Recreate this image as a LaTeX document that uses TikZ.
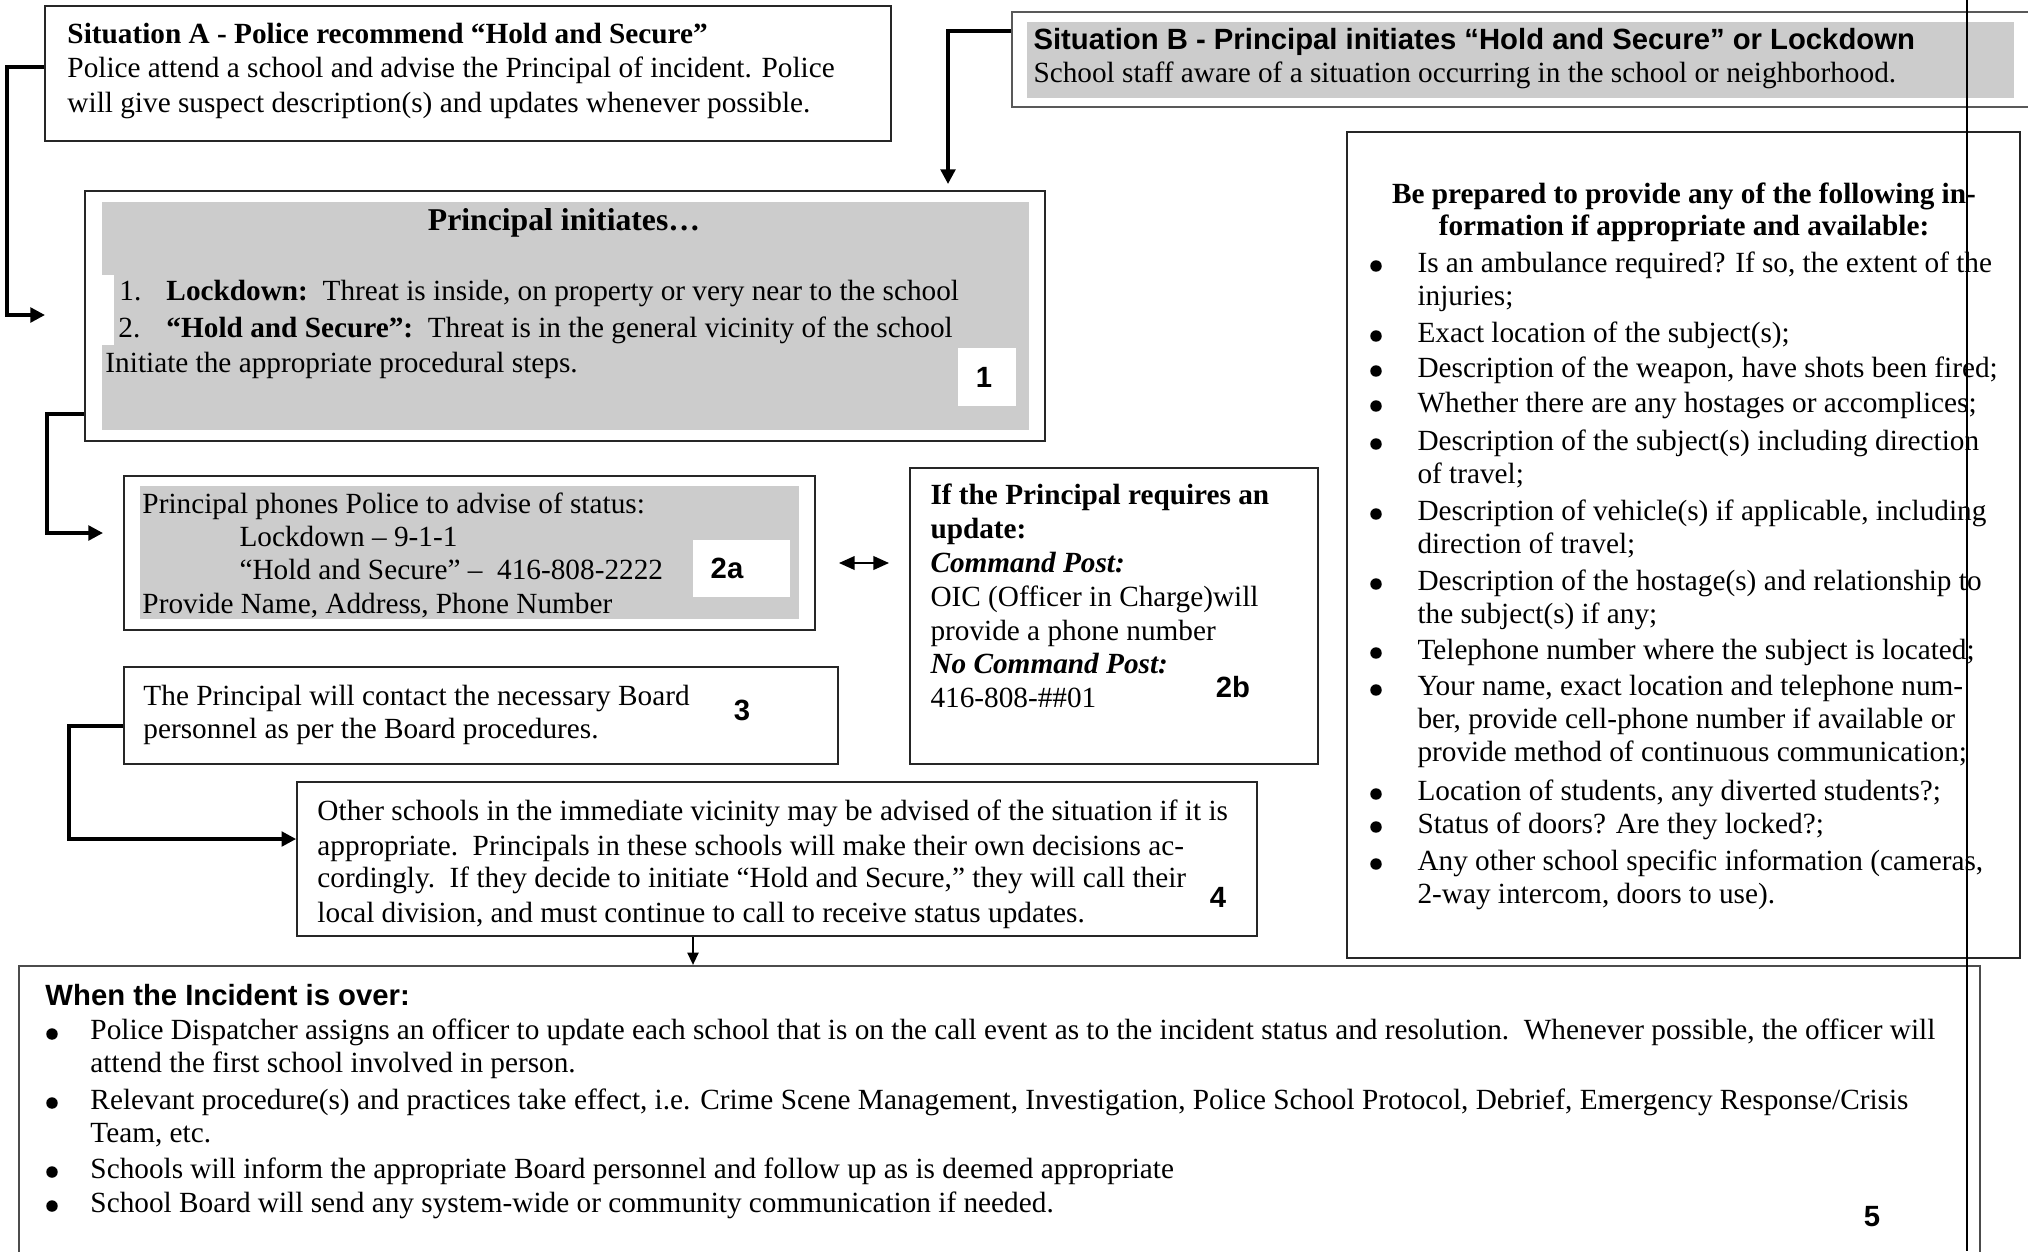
\documentclass[tikz,border=0pt]{standalone}
\usepackage{fontspec}
\setmainfont{Liberation Serif}
\newfontfamily\arialfont{Liberation Sans}
\usetikzlibrary{arrows.meta,fit,calc}

\tikzset{
  box/.style={draw=black!85,line width=0.7pt,inner sep=0pt},
  shade/.style={fill=gray!40,draw=none,inner sep=0pt},
  blank/.style={fill=white,draw=none,inner sep=0pt},
  txt/.style={anchor=base west,inner sep=0pt,align=left,
    font=\fontsize{12}{13.8}\selectfont},
  numlab/.style={inner sep=0pt,font=\arialfont\bfseries\fontsize{12}{14}\selectfont},
  bul/.style={circle,fill=black,inner sep=0pt,minimum size=4.7pt},
  conn/.style={line width=1.4pt,-{Triangle[length=6pt,width=6pt]}},
  thinconn/.style={line width=0.8pt,-{Triangle[length=5pt,width=4.5pt]}},
  dblconn/.style={line width=1.1pt,{Triangle[length=6.5pt,width=5.5pt]}-{Triangle[length=6.5pt,width=5.5pt]}}
}

\begin{document}
\begin{tikzpicture}[x=0.41pt,y=-0.41pt]
\useasboundingbox (0,0) rectangle (2028,1251);
% frames and shaded panels
\node[box,fit={(45,6)(891,141)}] (sitA) {};
\node[box,draw=black!65,line width=0.9pt,fit={(1012,12)(2060,107)}] (sitB) {};
\node[shade,fit={(1027,22)(2014,98)}] (sitBfill) {};
\node[box,fit={(85,191)(1045,441)}] (princ) {};
\node[shade,fit={(102,202)(1029,430)}] (princfill) {};
\node[blank,fit={(102,275)(114,345)}] (princgap) {};
\node[blank,fit={(958,348)(1016,406)}] (tagone) {};
\node[box,fit={(124,476)(815,630)}] (phone) {};
\node[shade,fit={(140,486)(799,619)}] (phonefill) {};
\node[blank,fit={(693,540)(790,597)}] (tagtwoa) {};
\node[box,fit={(910,468)(1318,764)}] (upd) {};
\node[box,fit={(124,667)(838,764)}] (board) {};
\node[box,fit={(297,782)(1257,936)}] (other) {};
\node[box,fit={(1347,132)(2020,958)}] (info) {};
\node[box,draw=black!70,line width=0.9pt,fit={(19,966)(1980,1290)}] (over) {};

% situation A and B (multi-line texts sit on their last baseline)
\node[txt,font=\fontsize{12}{14.1}\selectfont] (sitAtext) at (67,112)
  {\textbf{Situation A - Police recommend “Hold and Secure”}\\
   Police attend a school and advise the Principal of incident. Police\\
   will give suspect description(s) and updates whenever possible.};
\node[txt,font=\arialfont\bfseries\fontsize{12}{14}\selectfont] (sitBhead) at (1033,49)
  {Situation B - Principal initiates “Hold and Secure” or Lockdown};
\node[txt] (sitBtext) at (1033,82)
  {School staff aware of a situation occurring in the school or neighborhood.};

% principal initiates
\node[anchor=base,inner sep=0pt,font=\bfseries\fontsize{13}{15}\selectfont] (princhead) at (564,230)
  {Principal initiates…};
\node[txt] (lockno) at (119,300) {1.};
\node[txt] (holdno) at (118,337) {2.};
\node[txt] (lockline) at (166,300)
  {\textbf{Lockdown:}\ \ Threat is inside, on property or very near to the school};
\node[txt] (holdline) at (166,337)
  {\textbf{“Hold and Secure”:}\ \ Threat is in the general vicinity of the school};
\node[txt] (princsteps) at (105,372) {Initiate the appropriate procedural steps.};
\node[numlab] (numone) at (984,377) {1};

% phone call
\node[txt,font=\fontsize{12}{13.6}\selectfont] (phonetext) at (142,613)
  {Principal phones Police to advise of status:\\
   \hspace*{39.8pt}Lockdown – 9-1-1\\
   \hspace*{39.8pt}“Hold and Secure” –\ \ 416-808-2222\\
   Provide Name, Address, Phone Number};
\node[numlab] (numtwoa) at (727,568) {2a};

% update
\node[txt,font=\fontsize{12}{13.9}\selectfont] (updtext) at (930,640)
  {\textbf{If the Principal requires an}\\
   \textbf{update:}\\
   \textbf{\textit{Command Post:}}\\
   OIC (Officer in Charge)will\\
   provide a phone number};
\node[txt,font=\fontsize{12}{13.9}\selectfont] (updnopost) at (930,707)
  {\textbf{\textit{No Command Post:}}\\
   416-808-\#\#01};
\node[numlab] (numtwob) at (1233,687) {2b};

% board
\node[txt,font=\fontsize{12}{13.5}\selectfont] (boardtext) at (143,738)
  {The Principal will contact the necessary Board\\
   personnel as per the Board procedures.};
\node[numlab] (numthree) at (742,710) {3};

% other schools
\node[txt,font=\fontsize{12}{14.2}\selectfont] (othertop) at (317,855)
  {Other schools in the immediate vicinity may be advised of the situation if it is\\
   appropriate.\ \ Principals in these schools will make their own decisions ac-};
\node[txt,font=\fontsize{12}{14}\selectfont] (otherbottom) at (317,922)
  {cordingly.\ \ If they decide to initiate “Hold and Secure,” they will call their\\
   local division, and must continue to call to receive status updates.};
\node[numlab] (numfour) at (1218,897) {4};

% information list
\node[txt,anchor=base,align=center,font=\bfseries\fontsize{12}{13.1}\selectfont] (infohead) at (1684,235)
  {Be prepared to provide any of the following in-\\
   formation if appropriate and available:};
\foreach \yy/\ylast/\entry in {
  272/305/{Is an ambulance required? If so, the extent of the\\injuries;},
  342/342/{Exact location of the subject(s);},
  377/377/{Description of the weapon, have shots been fired;},
  412/412/{Whether there are any hostages or accomplices;},
  450/483/{Description of the subject(s) including direction\\of travel;},
  520/553/{Description of vehicle(s) if applicable, including\\direction of travel;},
  590/623/{Description of the hostage(s) and relationship to\\the subject(s) if any;},
  659/659/{Telephone number where the subject is located;},
  696/761/{Your name, exact location and telephone num-\\ber, provide cell-phone number if available or\\provide method of continuous communication;},
  800/800/{Location of students, any diverted students?;},
  833/833/{Status of doors? Are they locked?;},
  870/903/{Any other school specific information (cameras,\\2-way intercom, doors to use).}}
{
  \node[bul] (infobul\yy) at (1376,\yy-6) {};
  \node[txt,font=\fontsize{12}{13.4}\selectfont] (infoitem\yy) at (1417,\ylast) {\entry};
}

% incident over
\node[txt,font=\arialfont\bfseries\fontsize{12}{14}\selectfont] (overhead) at (45,1005)
  {When the Incident is over:};
\foreach \yy/\ylast/\entry in {
  1040/1072/{Police Dispatcher assigns an officer to update each school that is on the call event as to the incident status and resolution.\ \ Whenever possible, the officer will\\attend the first school involved in person.},
  1109/1142/{Relevant procedure(s) and practices take effect, i.e. Crime Scene Management, Investigation, Police School Protocol, Debrief, Emergency Response/Crisis\\Team, etc.},
  1178/1178/{Schools will inform the appropriate Board personnel and follow up as is deemed appropriate},
  1212/1212/{School Board will send any system-wide or community communication if needed.}}
{
  \node[bul] (overbul\yy) at (52,\yy-6) {};
  \node[txt,font=\fontsize{12}{13.3}\selectfont] (overitem\yy) at (90,\ylast) {\entry};
}
\node[numlab] (numfive) at (1872,1217) {5};

% connectors
\draw[conn] (sitA.west |- 0,67) -| (7,315) -- (45,315);
\draw[conn] (sitB.west |- 0,31) -| (948,184);
\draw[conn] (princ.west |- 0,414) -| (47,533) -- (103,533);
\draw[dblconn] ($(phone.east |- 0,563)+(23,0)$) -- ($(upd.west |- 0,563)+(-20,0)$);
\draw[conn] (board.west |- 0,726) -| (69,839) -- (other.west |- 0,839);
\draw[thinconn] (other.south -| 693,0) -- (over.north -| 693,0);
\draw[line width=0.6pt] (1967,0) -- (1967,1251);
\end{tikzpicture}
\end{document}
